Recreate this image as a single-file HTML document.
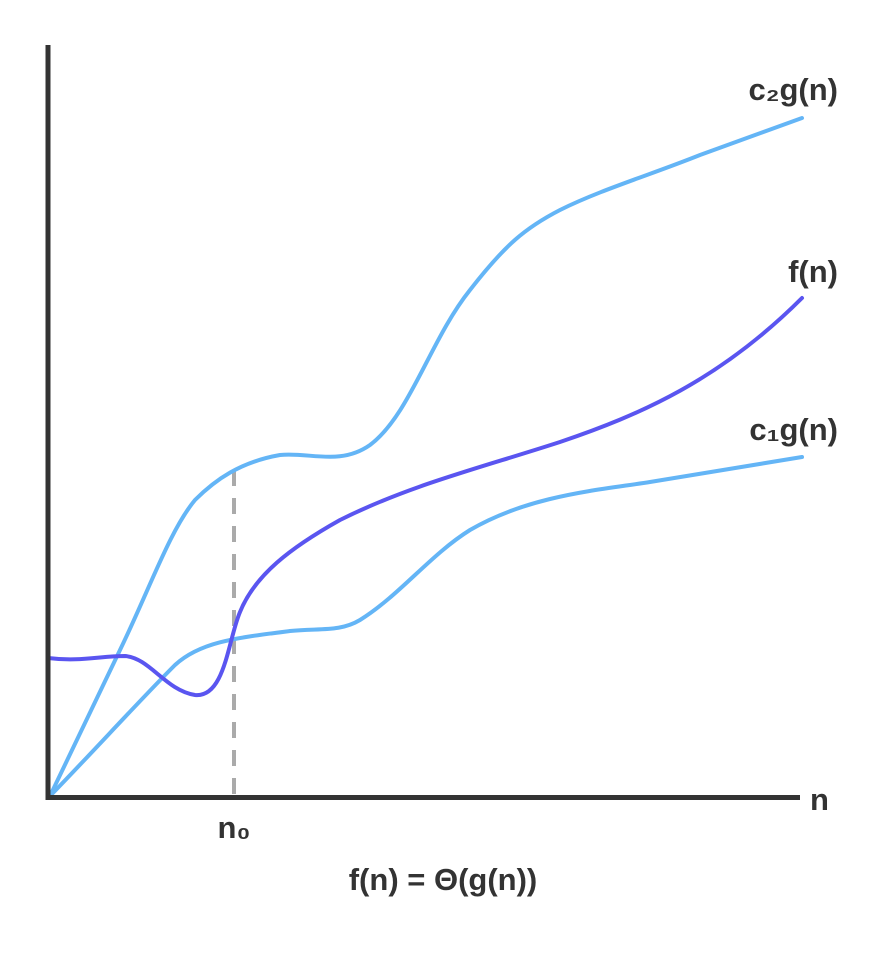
<!DOCTYPE html>
<html><head><meta charset="utf-8"><style>
html,body{margin:0;padding:0;background:#fff;}
svg text{font-family:"Liberation Sans",sans-serif;font-weight:bold;fill:#333;}
</style></head><body>
<svg width="886" height="948" viewBox="0 0 886 948" xmlns="http://www.w3.org/2000/svg">
<line x1="234" y1="470" x2="234" y2="795" stroke="#aaa" stroke-width="4" stroke-dasharray="16,12"/>
<path d="M50,796 L120,650 C150,588 170,530 195,500 C215,480 240,462 280,455 C310,452 340,466 370,445 C410,415 430,340 470,290 C505,245 525,228 560,210 C600,190 650,175 700,155 L802,118" fill="none" stroke="#64b5f6" stroke-width="4" stroke-linecap="round"/>
<path d="M50,796 C90,755 140,700 175,665 C200,642 235,638 290,631 C320,628 340,632 360,620 C400,595 430,555 470,530 C530,495 600,490 650,482 L802,457" fill="none" stroke="#64b5f6" stroke-width="4" stroke-linecap="round"/>
<path d="M48,658 C80,662 100,656 125,656 C150,658 165,690 195,695 C225,698 228,640 240,612 C255,575 290,548 340,520 C410,485 480,468 560,442 C640,415 720,380 802,298" fill="none" stroke="#5a55f0" stroke-width="4" stroke-linecap="round"/>
<line x1="48" y1="45" x2="48" y2="800" stroke="#333" stroke-width="5"/>
<line x1="46" y1="797.5" x2="800" y2="797.5" stroke="#333" stroke-width="5"/>
<text x="838" y="100" font-size="31" text-anchor="end">c₂g(n)</text>
<text x="838" y="282" font-size="31" text-anchor="end">f(n)</text>
<text x="838" y="440" font-size="31" text-anchor="end">c₁g(n)</text>
<text x="810" y="810" font-size="31">n</text>
<text x="234" y="838" font-size="31" text-anchor="middle">n₀</text>
<text x="443" y="890" font-size="31" text-anchor="middle">f(n) = Θ(g(n))</text>
</svg>
</body></html>
